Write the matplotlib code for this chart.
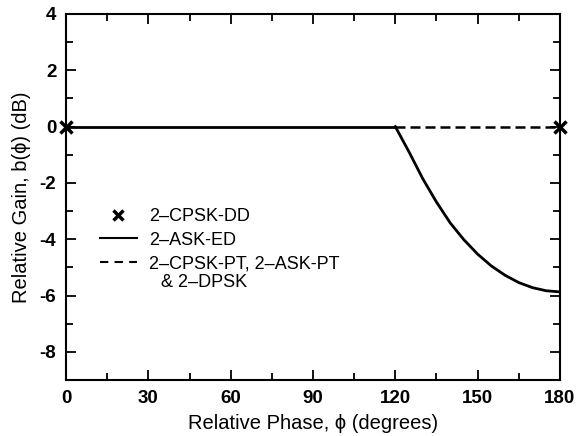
import numpy as np
import matplotlib
matplotlib.use("Agg")
import matplotlib.pyplot as plt
from matplotlib.lines import Line2D
from matplotlib.ticker import MultipleLocator

plt.rcParams['font.family'] = ['Liberation Sans', 'DejaVu Sans']
plt.rcParams['axes.unicode_minus'] = False

# relative gain vs. relative phase
phase_flat = [0, 120]
gain_flat = [0, 0]
phase_ed = [120, 125, 130, 135, 140, 145, 150, 155, 160, 165, 170, 175, 180]
gain_ed = [0, -0.9, -1.85, -2.68, -3.42, -4.02, -4.53, -4.95, -5.28, -5.54, -5.72, -5.83, -5.87]
phase_pt = [120, 180]
gain_pt = [0, 0]
phase_dd = [0, 180]
gain_dd = [0, 0]

labels = ['2\u2013CPSK-DD', '2\u2013ASK-ED', '2\u2013CPSK-PT, 2\u2013ASK-PT']
label_cont = '& 2\u2013DPSK'
xticks = [0, 30, 60, 90, 120, 150, 180]
yticks = [4, 2, 0, -2, -4, -6, -8]

fig = plt.figure(figsize=(5.77, 4.36), dpi=100)
ax = fig.add_axes([0.1144, 0.1284, 0.8561, 0.8395])

ax.plot(phase_flat, gain_flat, color='k', lw=2)
ax.plot(phase_ed, gain_ed, color='k', lw=2)
ax.plot(phase_pt, gain_pt, color='k', lw=1.8, linestyle=(0, (4, 2)))
ax.plot(phase_dd, gain_dd, linestyle='none', marker='x', color='k',
        ms=8, mew=2.5, clip_on=False, zorder=5)

ax.set_xlim(0, 180)
ax.set_ylim(-9, 4)
ax.set_xticks(xticks)
ax.set_yticks(yticks)
ax.xaxis.set_minor_locator(MultipleLocator(15))
ax.yaxis.set_minor_locator(MultipleLocator(1))
ax.tick_params(which='both', direction='in', top=True, right=True,
               labelsize=13.5, width=1.3, pad=7)
ax.tick_params(which='major', length=7)
ax.tick_params(which='minor', length=5)
for lab in ax.get_xticklabels() + ax.get_yticklabels():
    lab.set_fontweight('bold')
for sp in ax.spines.values():
    sp.set_linewidth(1.5)

ax.set_xlabel('Relative Phase, \u03d5 (degrees)', fontsize=14.5, labelpad=5)
ax.set_ylabel('Relative Gain, b(\u03d5) (dB)', fontsize=14.5, labelpad=6)

handles = [
    Line2D([], [], linestyle='none', marker='x', color='k', ms=7, mew=2.5),
    Line2D([], [], color='k', lw=1.5),
    Line2D([], [], color='k', lw=1.5, linestyle=(0, (4, 3))),
]
leg = ax.legend(handles, labels, loc='upper left', bbox_to_anchor=(0.055, 0.49),
                frameon=False, fontsize=13, handlelength=2.0, handletextpad=0.7,
                labelspacing=0.38, borderaxespad=0)
# second line of the last legend entry, drawn after the legend has placed its texts
ax.annotate(label_cont, xy=(0, 0), xycoords=leg.get_texts()[2],
            xytext=(8.6, -10.6), textcoords='offset points',
            fontsize=13, va='baseline', ha='left', zorder=10)

fig.savefig('out.png', dpi=100)
